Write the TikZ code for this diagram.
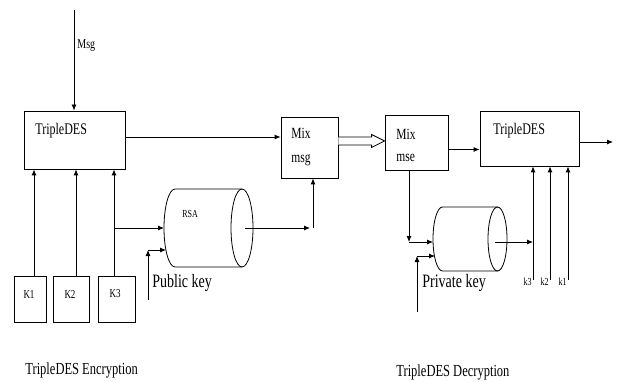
\documentclass[tikz,border=0pt]{standalone}
\usepackage{fontspec}
\setmainfont{Liberation Serif}
\usetikzlibrary{arrows.meta,calc}
\newcommand{\tall}[1]{\scalebox{1}[1.35]{#1}}
\begin{document}
\begin{tikzpicture}[x=1pt,y=-1pt,
  line width=0.8pt,
  box/.style={draw, line width=0.8pt, inner sep=0pt, minimum width=#1},
  arr/.style={-{Latex[length=6pt,width=5pt]}},
  txt/.style={inner sep=0pt, anchor=west},
]
\useasboundingbox (0,0) rectangle (618,382);

% boxes
\node[box=101, minimum height=58] (desA) at (74.5,140) {};
\node[box=57, minimum height=61] (mixA) at (309.5,147.5) {};
\node[box=63, minimum height=55] (mixB) at (416.5,142.5) {};
\node[box=99, minimum height=55] (desB) at (529.5,138.5) {};
\node[box=32, minimum height=46] (k1) at (30,299) {};
\node[box=36, minimum height=46] (k2) at (71,299) {};
\node[box=37, minimum height=46] (k3) at (116.5,299) {};

% cylinders (drawn directly)
\coordinate (rsaW) at (164,228);
\coordinate (rsaC) at (242,228);
\draw (242,189) -- (175,189) arc[start angle=270, end angle=90, x radius=11, y radius=39] -- (242,267);
\draw (rsaC) ellipse[x radius=11, y radius=39];
\coordinate (prW) at (433,239);
\coordinate (prC) at (497.5,239);
\draw (497.5,207) -- (442.5,207) arc[start angle=270, end angle=90, x radius=9.5, y radius=32] -- (497.5,271);
\draw (prC) ellipse[x radius=9.5, y radius=32];

% texts
\node[txt, font=\fontsize{12}{14}\selectfont] (tA) at (35,131) {\tall{TripleDES}};
\node[txt, font=\fontsize{12}{14}\selectfont] (tB) at (493,131) {\tall{TripleDES}};
\node[txt, font=\fontsize{11.5}{13}\selectfont] (mA1) at (291,133) {\tall{Mix}};
\node[txt, font=\fontsize{11.5}{13}\selectfont] (mA2) at (291,160) {\tall{msg}};
\node[txt, font=\fontsize{11.5}{13}\selectfont] (mB1) at (396,134) {\tall{Mix}};
\node[txt, font=\fontsize{11.5}{13}\selectfont] (mB2) at (396,158) {\tall{mse}};
\node[txt, font=\fontsize{10}{12}\selectfont] (msg) at (77,46) {\tall{Msg}};
\node[txt, font=\fontsize{8}{10}\selectfont] (rsat) at (182,214) {\tall{RSA}};
\node[font=\fontsize{9}{11}\selectfont, inner sep=0pt] (k1t) at (29,294) {\tall{K1}};
\node[font=\fontsize{9}{11}\selectfont, inner sep=0pt] (k2t) at (70,294) {\tall{K2}};
\node[font=\fontsize{9}{11}\selectfont, inner sep=0pt] (k3t) at (115,294) {\tall{K3}};
\node[txt, font=\fontsize{14}{16}\selectfont] (pub) at (152,283) {\tall{Public key}};
\node[txt, font=\fontsize{14}{16}\selectfont] (prk) at (422,283) {\tall{Private key}};
\node[font=\fontsize{8}{10}\selectfont, inner sep=0pt, anchor=east] (kk3) at (532,282) {\tall{k3}};
\node[font=\fontsize{8}{10}\selectfont, inner sep=0pt, anchor=east] (kk2) at (549,282) {\tall{k2}};
\node[font=\fontsize{8}{10}\selectfont, inner sep=0pt, anchor=east] (kk1) at (567,282) {\tall{k1}};
\node[txt, font=\fontsize{12.5}{14}\selectfont] (encl) at (25,370) {\tall{TripleDES Encryption}};
\node[txt, font=\fontsize{12.5}{14}\selectfont] (decl) at (396,372) {\tall{TripleDES Decryption}};

% coordinates
\coordinate (msgtop) at (74,10);
\coordinate (brk) at (114,228);
\coordinate (pubst) at (148,300);
\coordinate (pubc) at (148,250);
\coordinate (pubend) at (166,250);
\coordinate (rsaout) at (245,228);
\coordinate (rsaend) at (310,228);
\coordinate (mbc) at (409,242);
\coordinate (prin) at (433,242);
\coordinate (prst) at (417,312);
\coordinate (prc) at (417,256);
\coordinate (prend) at (435,256);
\coordinate (prout) at (495,242);
\coordinate (kb3) at (533,280);
\coordinate (kb2) at (550,280);
\coordinate (kb1) at (568,280);
\coordinate (outend) at (613,135);

% connectors
\draw[arr] (msgtop) -- (msgtop |- desA.north);
\draw[arr] ([yshift=3]desA.east) -- ([yshift=3]desA.east -| mixA.west);
\draw[arr] ([xshift=4]k1.north) -- ([xshift=4]k1.north |- desA.south);
\draw[arr] ([xshift=5]k2.north) -- ([xshift=5]k2.north |- desA.south);
\draw[arr] ([xshift=-2.5]k3.north) -- ([xshift=-2.5]k3.north |- desA.south);
\draw[arr] (brk) -- (rsaW);
\draw[arr] (pubst) -- (pubc);
\draw[arr] (pubc) -- (pubend);
\draw[arr] (rsaout) -- (rsaend);
\draw[arr] ([xshift=3.5]mixA.south |- rsaend) -- ([xshift=3.5]mixA.south);
% hollow double arrow
\draw[line width=0.8pt, fill=white]
  (mixA.east |- 0,137) -- ($(mixB.west |- 0,137)+(-13,0)$) -- ($(mixB.west |- 0,134.5)+(-13,0)$)
  -- (mixB.west |- 0,141) -- ($(mixB.west |- 0,147.5)+(-13,0)$) -- ($(mixB.west |- 0,145)+(-13,0)$)
  -- (mixA.east |- 0,145);
\draw[arr] ([yshift=-7]mixB.east) -- ([yshift=-7]mixB.east -| desB.west);
\draw[arr] ([yshift=-3.5]desB.east) -- ([yshift=-3.5]desB.east -| outend);
\draw[arr] ([xshift=-7.5]mixB.south) -- (mbc);
\draw[arr] (mbc) -- (prin);
\draw[arr] (prst) -- (prc);
\draw[arr] (prc) -- (prend);
\draw[arr] (prout) -- (kb3 |- prout);
\draw[arr] (kb3) -- (kb3 |- desB.south);
\draw[arr] (kb2) -- (kb2 |- desB.south);
\draw[arr] (kb1) -- (kb1 |- desB.south);
\end{tikzpicture}
\end{document}
